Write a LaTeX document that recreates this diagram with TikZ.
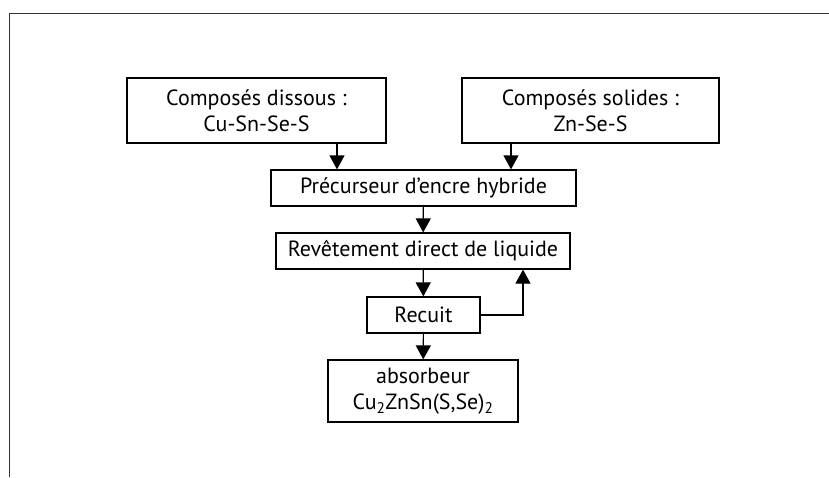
\documentclass[tikz,border=0pt]{standalone}
\usepackage{fontspec}
\setmainfont{PT Sans}
\usetikzlibrary{arrows.meta}
\begin{document}
\begin{tikzpicture}[x=1pt, y=-1pt,
        box/.style = {draw, line width=1.2pt, inner sep=0pt, align=center,
                      font=\fontsize{22}{26}\selectfont},
        arr/.style = {line width=1.2pt, -{Triangle[width=15pt,length=14pt]}}]
            \useasboundingbox (0,0) rectangle (829,477);
            \draw[line width=1.3pt, black!80] (9.5,477) -- (9.5,13.5) -- (829,13.5);

            \node[box, minimum width=259pt, minimum height=65pt] (dissous) at (256.5,110.5) {Composés dissous :\\Cu-Sn-Se-S};
            \node[box, minimum width=257pt, minimum height=65pt] (solides) at (590.5,110.5) {Composés solides :\\Zn-Se-S};
            \node[box, minimum width=305pt, minimum height=36pt] (precurseur) at (423.5,188) {Précurseur d’encre hybride};
            \node[box, minimum width=294pt, minimum height=36pt] (revetement) at (423,251) {Revêtement direct de liquide};
            \node[box, minimum width=113pt, minimum height=36pt] (recuit) at (423.5,315) {Recuit};
            \node[box, minimum width=190pt, minimum height=62pt] (absorbeur) at (423,391) {absorbeur\\Cu\textsubscript{2}ZnSn(S,Se)\textsubscript{2}};

            \coordinate (gauche) at (337,0);
            \coordinate (droite) at (511,0);
            \coordinate (retour) at (523,315);

            \draw[arr] (dissous.south -| gauche) -- (precurseur.north -| gauche);
            \draw[arr] (solides.south -| droite) -- (precurseur.north -| droite);
            \draw[arr] (precurseur) -- (revetement);
            \draw[arr] (revetement) -- (recuit);
            \draw[arr] (recuit) -- (absorbeur);
            \draw[arr] (recuit.east) -- (retour) -- (revetement.south -| retour);
        \end{tikzpicture}
\end{document}
